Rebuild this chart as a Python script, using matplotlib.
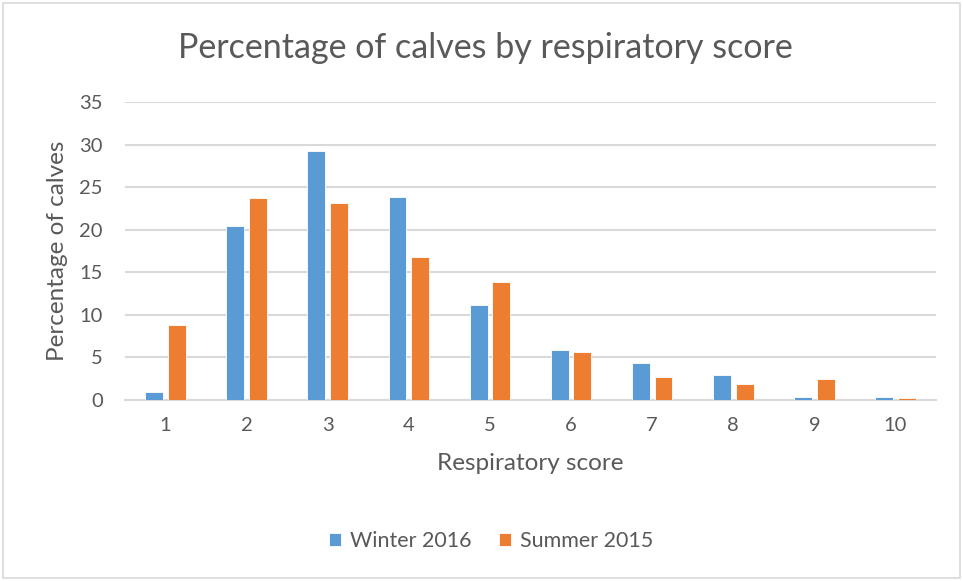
import numpy as np
import matplotlib.pyplot as plt
from matplotlib.patches import Rectangle

# Data
scores = [1, 2, 3, 4, 5, 6, 7, 8, 9, 10]
winter_2016 = [0.9, 20.4, 29.2, 23.9, 11.1, 5.9, 4.3, 2.9, 0.35, 0.35]
summer_2015 = [8.85, 23.7, 23.1, 16.8, 13.9, 5.6, 2.75, 1.85, 2.5, 0.2]

blue = '#5B9BD5'
orange = '#ED7D31'
text_col = '#595959'
grid_col = '#D9D9D9'

plt.rcParams['font.family'] = ['Lato', 'DejaVu Sans']

fig = plt.figure(figsize=(9.63, 5.81), dpi=100)
ax = fig.add_axes([125 / 963, 1 - 400 / 581, (936 - 125) / 963, (400 - 102) / 581])

x = np.arange(len(scores))
w = 0.22
off = 0.14
ax.bar(x - off, winter_2016, w, color=blue, edgecolor='white', linewidth=0.6,
       label='Winter 2016', zorder=3)
ax.bar(x + off, summer_2015, w, color=orange, edgecolor='white', linewidth=0.6,
       label='Summer 2015', zorder=3)

ax.set_xlim(-0.5, len(scores) - 0.5)
ax.set_ylim(0, 35)
ax.set_yticks(range(0, 36, 5))
ax.set_xticks(x)
ax.set_xticklabels([str(s) for s in scores])
ax.yaxis.grid(True, color=grid_col, linewidth=1.5, zorder=0)
ax.set_axisbelow(True)
for side in ['top', 'right', 'left']:
    ax.spines[side].set_visible(False)
ax.spines['bottom'].set_color(grid_col)
ax.spines['bottom'].set_linewidth(1.5)
ax.tick_params(length=0, labelsize=14.5, colors=text_col)
ax.tick_params(axis='y', pad=16)
ax.tick_params(axis='x', pad=12)

ax.set_xlabel('Respiratory score', fontsize=17.5, color=text_col, labelpad=14)
ax.set_ylabel('Percentage of calves', fontsize=17.5, color=text_col, labelpad=8)

fig.text(485 / 963, 1 - 48 / 581, 'Percentage of calves by respiratory score',
         ha='center', va='center', fontsize=24.5, color=text_col)

leg = fig.legend(loc='center', bbox_to_anchor=(491 / 963, 1 - 541 / 581), ncol=2,
                 frameon=False, fontsize=15.5, handlelength=0.55, handleheight=0.55,
                 handletextpad=0.4, columnspacing=1.3)
for t in leg.get_texts():
    t.set_color(text_col)

fig.patches.append(Rectangle((3 / 963, 3 / 581), 957 / 963, 575 / 581,
                             transform=fig.transFigure, fill=False,
                             edgecolor=grid_col, linewidth=1.2))

fig.savefig('out.png', dpi=100)
